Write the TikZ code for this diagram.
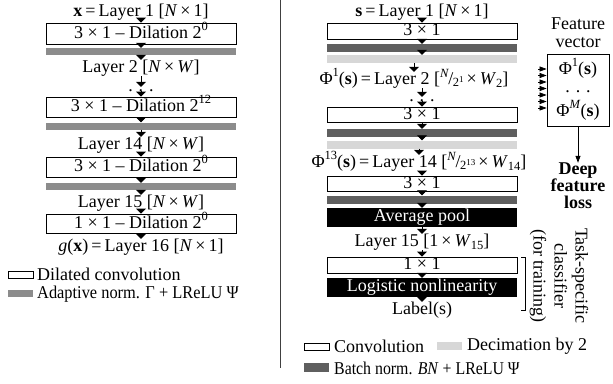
\documentclass[tikz,border=0pt]{standalone}
\usepackage{fontspec}
\usepackage{graphicx}
\setmainfont{Liberation Serif}
\newfontfamily\tnr[Ligatures=TeX]{Liberation Serif}
\usetikzlibrary{arrows.meta}
\definecolor{agray}{RGB}{140,140,140}
\definecolor{dgray}{RGB}{95,95,95}
\definecolor{lgray}{RGB}{215,215,215}
\newcommand\mysup[1]{\raisebox{0.42em}{\fontsize{12.5}{12.5}\selectfont #1}}
\newcommand\mysub[1]{\raisebox{-0.22em}{\fontsize{12.5}{12.5}\selectfont #1}}
\newcommand\mysupp[1]{\raisebox{0.3em}{\fontsize{9}{9}\selectfont #1}}
\newcommand\myfrac[2]{\raisebox{0.35em}{\fontsize{12.5}{12.5}\selectfont #1}\kern-0.04em/\kern-0.02em\raisebox{-0.12em}{\fontsize{12.5}{12.5}\selectfont #2}}
\begin{document}
\begin{tikzpicture}[x=1pt,y=-1pt,
  font=\tnr\fontsize{18}{20}\selectfont,
  lbl/.style={inner sep=0pt, text height=12pt, text depth=4pt},
  conv/.style={draw=black, line width=0.8pt, fill=white, minimum width=190pt, inner sep=0pt, text height=12pt, text depth=3pt},
  bar/.style={minimum width=190pt, inner sep=0pt},
  anorm/.style={bar, fill=agray, minimum height=7pt},
  bnorm/.style={bar, fill=dgray, minimum height=8pt},
  decim/.style={bar, fill=lgray, minimum height=8pt},
  blk/.style={bar, fill=black, text=white, text height=12pt, text depth=4pt, minimum height=19pt},
  arr/.style={-{Triangle[width=10pt,length=5pt]}, line width=0.8pt},
  sarr/.style={-{Triangle[width=5pt,length=7pt]}, line width=0.6pt},
  legbox/.style={minimum width=25pt, minimum height=7pt, inner sep=0pt}
]
\useasboundingbox (0,0) rectangle (613,383);
% ---------- left column ----------
\node[lbl] (L1) at (141,12) {\textbf{x}\,=\,Layer 1 [\textit{N}\,×\,1]};
\node[conv, minimum height=21pt] (B1) at (141,33.5) {3 × 1 – Dilation 2\mysup{0}};
\node[anorm] (G1) at (141,51.5) {};
\node[lbl] (L2) at (141,68) {Layer 2 [\textit{N}\,×\,\textit{W}]};
\node[lbl, text height=4pt, text depth=0pt] (D1) at (141,89) {. . .};
\node[conv, minimum height=20pt] (B2) at (141,107) {3 × 1 – Dilation 2\mysup{12}};
\node[anorm] (G2) at (141,126) {};
\node[lbl] (L14) at (141,145) {Layer 14 [\textit{N}\,×\,\textit{W}]};
\node[conv, minimum height=20pt] (B3) at (141,167) {3 × 1 – Dilation 2\mysup{0}};
\node[anorm] (G3) at (141,186.5) {};
\node[lbl] (L15) at (141,203) {Layer 15 [\textit{N}\,×\,\textit{W}]};
\node[conv, minimum height=19pt] (B4) at (141,223.5) {1 × 1 – Dilation 2\mysup{0}};
\node[lbl] (L16) at (141,247) {\textit{g}(\textbf{x})\,=\,Layer 16 [\textit{N}\,×\,1]};
\foreach \a/\b in {L1/B1,B1/G1,G1/L2,L2/D1,D1/B2,B2/G2,G2/L14,L14/B3,B3/G3,G3/L15,L15/B4,B4/L16}
  \draw[arr] (\a.south -| \b.north) -- (\b.north);
% left legend
\node[legbox, draw=black, line width=0.8pt, fill=white] (lg1) at (20.5,275) {};
\node[anchor=west, inner sep=0pt] (lt1) at (37,274.5) {Dilated convolution};
\node[legbox, fill=agray] (lg2) at (20.5,293.5) {};
\node[anchor=west, inner sep=0pt] (lt2) at (37,294) {\scalebox{0.91}[1]{Adaptive norm. Γ + LReLU Ψ}};
% divider
\draw[line width=1pt, black!75] (280,0) -- (280,368);
% ---------- right column ----------
\node[lbl] (R1) at (422,12) {\textbf{s}\,=\,Layer 1 [\textit{N}\,×\,1]};
\node[conv, minimum height=16pt] (RA) at (422,31) {3 × 1};
\node[bnorm] (RA1) at (422,48) {};
\node[decim] (RA2) at (422,59) {};
\node[lbl] (R2) at (414,80) {Φ\mysup{1}(\textbf{s})\,=\,Layer 2 [\myfrac{\textit{N}}{2\mysupp{1}}\,×\,\textit{W}\mysub{2}]};
\node[lbl, text height=4pt, text depth=0pt] (RD1) at (422,99) {. . .};
\node[conv, minimum height=15pt] (RB) at (422,114.5) {3 × 1};
\node[bnorm] (RB1) at (422,133) {};
\node[decim] (RB2) at (422,144.5) {};
\node[lbl] (R14) at (419,163) {Φ\mysup{13}(\textbf{s})\,=\,Layer 14 [\myfrac{\textit{N}}{2\mysupp{13}}\,×\,\textit{W}\mysub{14}]};
\node[conv, minimum height=15pt] (RC) at (422,183.5) {3 × 1};
\node[bnorm] (RC1) at (422,199.5) {};
\node[blk] (RAv) at (422,217.5) {Average pool};
\node[lbl] (R15) at (422,242) {Layer 15 [1\,×\,\textit{W}\mysub{15}]};
\node[conv, minimum height=16pt] (RD) at (422,265) {1 × 1};
\node[blk] (RLo) at (422,287.5) {Logistic nonlinearity};
\node[lbl] (RLa) at (422,310) {Label(s)};
\foreach \a/\b in {R1/RA,RA/RA1,RA1/RA2,RA2/R2,R2/RD1,RD1/RB,RB/RB1,RB1/RB2,RB2/R14,R14/RC,RC/RC1,RC1/RAv,RAv/R15,R15/RD,RD/RLo,RLo/RLa}
  \draw[arr] (\a.south -| \b.north) -- (\b.north);
% feature vector
\node[lbl] (FT) at (578,25) {Feature};
\node[lbl] (FV) at (578,43) {vector};
\node[draw=black, line width=0.8pt, minimum width=62pt, minimum height=72pt, inner sep=0pt] (FB) at (578,90) {};
\node[lbl] (F1) at (578,70) {Φ\mysup{1}(\textbf{s})};
\node[lbl, text height=4pt, text depth=0pt] (FD) at (578,90) {. . .};
\node[lbl] (FM) at (578,112) {Φ\mysup{\textit{M}}(\textbf{s})};
\foreach \yy [count=\i] in {69,75.5,82,88.5,95,101.5,108} {
  \coordinate (fa\i) at (538,\yy);
  \draw[sarr] (fa\i) -- (FB.west |- fa\i);
}
\node[align=center, font=\tnr\fontsize{18}{17}\selectfont\bfseries, inner sep=0pt] (DL) at (578,186) {Deep\\feature\\loss};
\draw[sarr, line width=0.8pt] (FB.south) -- (DL.north);
% classifier bracket
\coordinate (bt) at (521,257);
\coordinate (bb) at (521,310);
\draw[line width=0.8pt] (bt) -- ++(4,0) |- (bb);
\node[rotate=-90, align=center, inner sep=0pt, font=\tnr\fontsize{18}{21}\selectfont] (TS) at (559,276) {Task-specific\\classifier\\(for training)};
% right legend
\node[legbox, draw=black, line width=0.8pt, fill=white] (rg1) at (316.5,346.5) {};
\node[anchor=west, inner sep=0pt] (rt1) at (334,346) {Convolution};
\node[legbox, fill=lgray, minimum height=8pt] (rg2) at (449.5,346) {};
\node[anchor=west, inner sep=0pt] (rt2) at (467,346) {Decimation by 2};
\node[legbox, fill=dgray, minimum height=9pt] (rg3) at (316.5,367.5) {};
\node[anchor=west, inner sep=0pt] (rt3) at (334,368) {\scalebox{0.88}[1]{Batch norm. \textit{BN} + LReLU Ψ}};
\end{tikzpicture}
\end{document}
